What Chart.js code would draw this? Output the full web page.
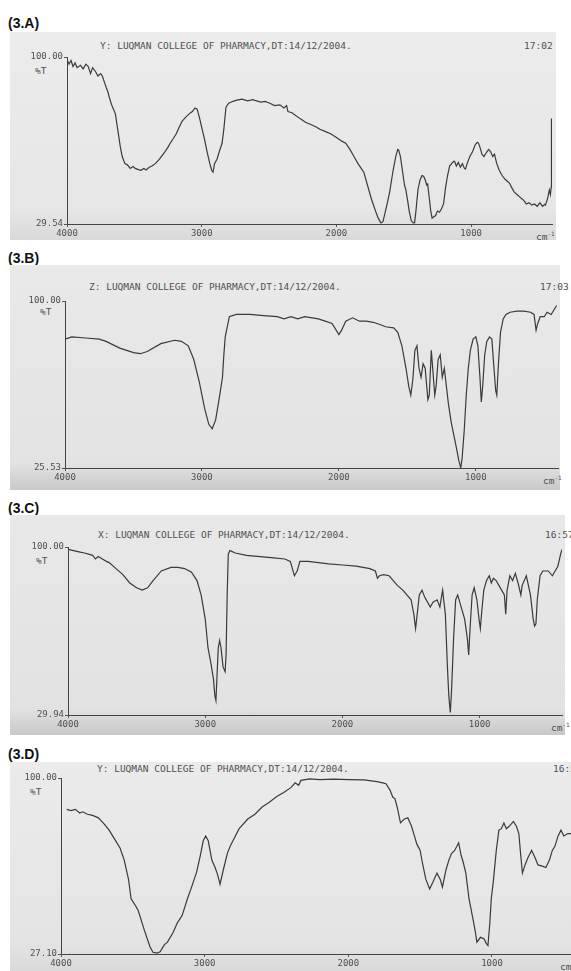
<!DOCTYPE html>
<html>
<head>
<meta charset="utf-8">
<script src="https://cdn.jsdelivr.net/npm/chart.js@4.4.0/dist/chart.umd.min.js"></script>
<style>
  body { margin: 0; width: 571px; height: 971px; overflow: hidden; background: #fff; position: relative; font-family: "Liberation Sans", Arial, sans-serif; }
  .lbl { position: absolute; left: 8px; font-weight: bold; font-size: 14px; color: #111; line-height: 14px; }
  .box { position: absolute; left: 10px; }
  .mono { position: absolute; font-family: "DejaVu Sans Mono", monospace; font-size: 9.5px; color: #505050; line-height: 10px; white-space: nowrap; }
  canvas { position: absolute; left: 0; }
</style>
</head>
<body>
<script>
// x tick labels shared by all four spectra
const xTicks = [4000, 3000, 2000, 1000];

// (3.A) wavenumber (cm-1) / %T
const waveA = [4000,3985,3970,3955,3940,3925,3900,3880,3860,3842,3825,3810,3790,3770,3750,3738,3720,3708,3695,3686,3670,3655,3641,3625,3604,3590,3570,3552,3530,3510,3493,3470,3450,3430,3412,3390,3370,3345,3320,3300,3279,3250,3230,3212,3190,3170,3145,3120,3093,3070,3050,3034,3015,2995,2982,2960,2940,2925,2916,2905,2886,2870,2849,2835,2820,2800,2768,2740,2700,2660,2620,2605,2560,2530,2494,2460,2420,2390,2370,2360,2330,2308,2270,2230,2190,2150,2123,2080,2040,2000,1960,1931,1900,1870,1840,1810,1797,1770,1740,1710,1690,1670,1655,1640,1620,1605,1580,1560,1545,1538,1525,1510,1495,1485,1471,1460,1445,1430,1420,1410,1395,1380,1365,1353,1340,1330,1323,1310,1300,1290,1280,1265,1250,1235,1220,1205,1190,1175,1160,1145,1130,1123,1110,1095,1080,1065,1050,1042,1030,1010,990,970,955,945,935,920,905,886,870,855,840,827,810,790,770,750,730,716,700,680,660,640,620,612,590,570,550,530,510,490,470,455,449,440,430,420,412,406,404];
const transA = [99,97,98.5,96,97.5,95.5,96.5,95,97,96,93,95.5,94,92,93,92,89,87,85,83,80,78,76,70,62,58,55,54.5,53,53.8,53,52.5,52.2,53,52.3,53.5,54,55,56.5,58,59.5,62,64,65.5,67.5,70,73,74.5,76,77,78.5,78,74,69,66,60,55,52,51.4,55,57,60,63.6,70,78.8,80.5,81.3,81.8,82.2,81.5,82,81.7,81,81.3,80.5,79.5,79.8,78.5,79.5,77,76.5,75.5,74,72.5,71.5,70.5,69.5,68.5,67.5,66,64.5,63.6,61,58,55,52.5,51.4,46,40,35,32,30,30.5,34,39,43,52,58,61,60.7,58,52,46,44,39.2,35,31,30,30,35,44,48,50,49.7,48,46,46.4,40,35,32,32.5,33,35,34.5,36,38,45,50,54,55,56,56,54,55.5,53.5,55,53,52.7,55,58,60,63,64,63.6,62,59,58,59.8,61,60,58,59,55,52,50,48.5,47.5,46.8,45,43,42,41,40,39.6,38,38.5,37.5,38,37,38.5,37,37.8,37.5,39,41,43.9,42,45,74];

// (3.B)
const waveB = [4000,3950,3850,3750,3700,3600,3500,3450,3400,3300,3200,3150,3100,3060,3020,2980,2950,2925,2900,2870,2850,2840,2830,2820,2800,2750,2650,2550,2450,2400,2350,2300,2250,2150,2100,2050,2000,1980,1950,1900,1850,1800,1750,1700,1660,1600,1570,1540,1510,1490,1475,1460,1445,1430,1415,1400,1385,1370,1350,1340,1325,1315,1300,1290,1275,1260,1245,1230,1215,1200,1180,1160,1140,1125,1110,1100,1085,1070,1055,1040,1020,1000,985,970,960,950,935,920,900,883,870,855,847,835,820,800,780,750,700,650,600,575,560,548,530,500,480,450,430,410];
const transB = [83,84,83.5,83,82,79,77,76.5,77.5,81,82.5,82,80,74,64,52,45,43,47,58,66,76,84,87,93,94,94,93.5,93,92,93,92,93,92,91,90,85,87,91,92.5,91,91,90.5,89.5,88.5,88,86,80,70,62,58,65,78,80,70,66,72,70,56,58,78,70,58,62,74,76,66,70,62,54,46,40,34,29,25.6,30,42,58,70,78,83,84,80,66,55,62,76,82,84,83,72,60,58,72,86,92,94,95,95.5,95.5,95,94,87,90,93,93,95,94,96,98];

// (3.C)
const waveC = [4000,3960,3920,3880,3850,3820,3800,3780,3750,3720,3700,3650,3600,3550,3500,3460,3420,3380,3320,3250,3200,3150,3100,3060,3030,3000,2980,2960,2940,2930,2922,2915,2905,2895,2885,2870,2855,2848,2840,2832,2820,2780,2700,2600,2500,2420,2380,2350,2330,2310,2250,2100,2000,1900,1800,1760,1745,1730,1700,1660,1630,1600,1560,1500,1480,1467,1455,1440,1420,1400,1380,1360,1340,1310,1290,1270,1250,1235,1225,1214,1205,1190,1175,1160,1140,1110,1090,1080,1070,1055,1040,1020,1005,995,985,970,950,930,915,900,880,860,840,820,810,800,780,760,740,720,700,690,660,630,610,600,590,580,560,540,500,470,450,430,410,400];
const transC = [99,98.5,98,97.5,97,96.5,95,96,95,94,93.5,91,88.5,85,83,82,83,86,90,91.5,91.5,91,89.5,86,80,70,58,52,45,38,36,45,58,61,58,50,48,55,80,97,98.5,97.5,96.5,96,95.5,95,94,88,90,94,94,93,92.5,92,91,90,87,88,88.5,88,86,84,82,78,72,66,72,80,82,79,77,75,77,78,75,82,72,50,38,31,40,62,78,80,76,70,62,55,66,80,83,78,70,66,73,82,86,88,85,87,86,84,82,80,72,82,88,86,89,85,80,84,88,80,70,67,68,78,88,90,90,88,90,92,97,99];

// (3.D)
const waveD = [3960,3930,3900,3870,3850,3816,3780,3740,3700,3665,3630,3589,3560,3530,3512,3480,3462,3420,3380,3360,3330,3310,3280,3259,3220,3190,3157,3120,3090,3056,3030,3010,2993,2975,2950,2928,2910,2893,2870,2841,2820,2803,2760,2700,2650,2600,2550,2498,2450,2400,2370,2346,2330,2270,2200,2100,2000,1891,1800,1760,1738,1710,1690,1676,1660,1637,1610,1586,1560,1540,1523,1500,1485,1460,1434,1410,1383,1360,1345,1320,1300,1282,1260,1232,1215,1200,1182,1160,1130,1115,1105,1080,1056,1040,1028,1015,1005,991,970,952,935,917,900,880,851,830,813,800,788,770,750,724,700,680,650,625,600,580,562,540,520,500,472,450];
const transD = [87,86.5,87,85.5,86,85,84.5,83.5,81,78.4,75,71,66,58,50,47,45,37,30,27.8,27.5,28,31,32,36,40,43,50,55,61,68,74,76,74,66,63,60,56,62,69,72,74,79,83,85,88,90,92.3,94,96,98,97,99,99.6,99.3,99.5,99.3,99.2,98.5,98,97.6,95,92,91.5,88,81.4,83,83.5,80,76,72.6,70,65,58,54,57,60.6,58,54.8,62,66,68.7,70,73.2,68,65,60.6,50,40.8,36,32,34,33.4,31.5,30.6,40,50,57,70,78.4,79,81.4,79,80,82,80,77,68,60.6,64,67,70,67,64,63.5,62.9,66,70,71.7,76,78.4,76,77,77];

const yMins = [29.54, 25.53, 29.94, 27.10];
const xMins = [400, 400, 400, 450];
const panelNames = ['(3.A)', '(3.B)', '(3.C)', '(3.D)'];
const headers = ['Y: LUQMAN COLLEGE OF PHARMACY,DT:14/12/2004.', 'Z: LUQMAN COLLEGE OF PHARMACY,DT:14/12/2004.', 'X: LUQMAN COLLEGE OF PHARMACY,DT:14/12/2004.', 'Y: LUQMAN COLLEGE OF PHARMACY,DT:14/12/2004.'];
const times = ['17:02', '17:03', '16:57', '16:53'];
const waves = [waveA, waveB, waveC, waveD];
const trans = [transA, transB, transC, transD];

// page geometry (px): box, axes, header placement, scan shading
const layout = [
  { lbl: 16, top: 32, bottom: 240, boxR: 556, axL: 67, axR: 552, y100: 57, yBot: 224, hx: 100, hy: 41, tx: 524, ptx: 35, pty: 66, cmx: 536, bg: 'linear-gradient(#ececec, #e6e6e6 85%, #d9d9d9)' },
  { lbl: 251, top: 265, bottom: 490, boxR: 560, axL: 65, axR: 558, y100: 301, yBot: 468, hx: 89, hy: 282, tx: 540, ptx: 40, pty: 307, cmx: 543, bg: 'linear-gradient(#e9e9e9, #e3e3e3 88%, #c9c9c9)' },
  { lbl: 501, top: 515, bottom: 735, boxR: 565, axL: 68, axR: 562, y100: 547, yBot: 715, hx: 98, hy: 530, tx: 545, ptx: 36, pty: 556, cmx: 551, bg: 'linear-gradient(#e8e8e8, #e2e2e2 88%, #c8c8c8)' },
  { lbl: 747, top: 762, bottom: 971, boxR: 571, axL: 61, axR: 571, y100: 778, yBot: 954, hx: 97, hy: 764, tx: 553, ptx: 30, pty: 787, cmx: 560, bg: 'linear-gradient(#ebebeb, #e4e4e4 85%, #dadada)' },
];

const tickFont = { family: 'DejaVu Sans Mono', size: 9 };
const AXIS_W = 50, AXIS_H = 16;

function addText(cls, txt, x, y) {
  const d = document.createElement('div');
  d.className = cls;
  d.textContent = txt;
  d.style.left = x + 'px';
  d.style.top = y + 'px';
  document.body.appendChild(d);
  return d;
}

layout.forEach((p, i) => {
  addText('lbl', panelNames[i], 8, p.lbl);

  const box = document.createElement('div');
  box.className = 'box';
  box.style.top = p.top + 'px';
  box.style.height = (p.bottom - p.top) + 'px';
  box.style.width = (p.boxR - 10) + 'px';
  box.style.background = p.bg;
  document.body.appendChild(box);

  addText('mono', headers[i], p.hx, p.hy);
  addText('mono', times[i], p.tx, p.hy);
  addText('mono', '%T', p.ptx, p.pty);
  const cm = addText('mono', 'cm', p.cmx, p.yBot + 5);
  const sup = document.createElement('sup');
  sup.textContent = '-1';
  sup.style.fontSize = '6px';
  cm.appendChild(sup);

  const h = p.bottom - p.top;
  const cv = document.createElement('canvas');
  cv.width = 571; cv.height = h;
  cv.style.top = p.top + 'px';
  document.body.appendChild(cv);

  const pts = waves[i].map((w, k) => ({ x: w, y: trans[i][k] }));
  const yMin = yMins[i];

  new Chart(cv.getContext('2d'), {
    type: 'line',
    data: { datasets: [{ data: pts, borderColor: '#3a3a3a', borderWidth: 1.2, pointRadius: 0, tension: 0, fill: false }] },
    options: {
      responsive: false,
      animation: false,
      devicePixelRatio: 1,
      layout: { padding: { left: p.axL - AXIS_W, right: 571 - p.axR, top: p.y100 - p.top, bottom: h - (p.yBot - p.top) - AXIS_H } },
      plugins: { legend: { display: false }, tooltip: { enabled: false } },
      scales: {
        x: {
          type: 'linear', reverse: true, min: xMins[i], max: 4000,
          afterBuildTicks: s => { s.ticks = xTicks.map(v => ({ value: v })); },
          afterFit: s => { s.height = AXIS_H; },
          ticks: { font: tickFont, color: '#505050', padding: 1, maxRotation: 0, autoSkip: false, callback: v => String(v) },
          grid: { drawOnChartArea: false, drawTicks: true, tickLength: 3, color: '#555' },
          border: { display: true, color: '#444', width: 1 },
        },
        y: {
          min: yMin, max: 100,
          afterBuildTicks: s => { s.ticks = [{ value: yMin }, { value: 100 }]; },
          afterFit: s => { s.width = AXIS_W; },
          ticks: { font: tickFont, color: '#505050', padding: 1, callback: v => v.toFixed(2) },
          grid: { drawOnChartArea: false, drawTicks: true, tickLength: 3, color: '#555' },
          border: { display: true, color: '#444', width: 1 },
        },
      },
    },
  });
});
</script>
</body>
</html>
